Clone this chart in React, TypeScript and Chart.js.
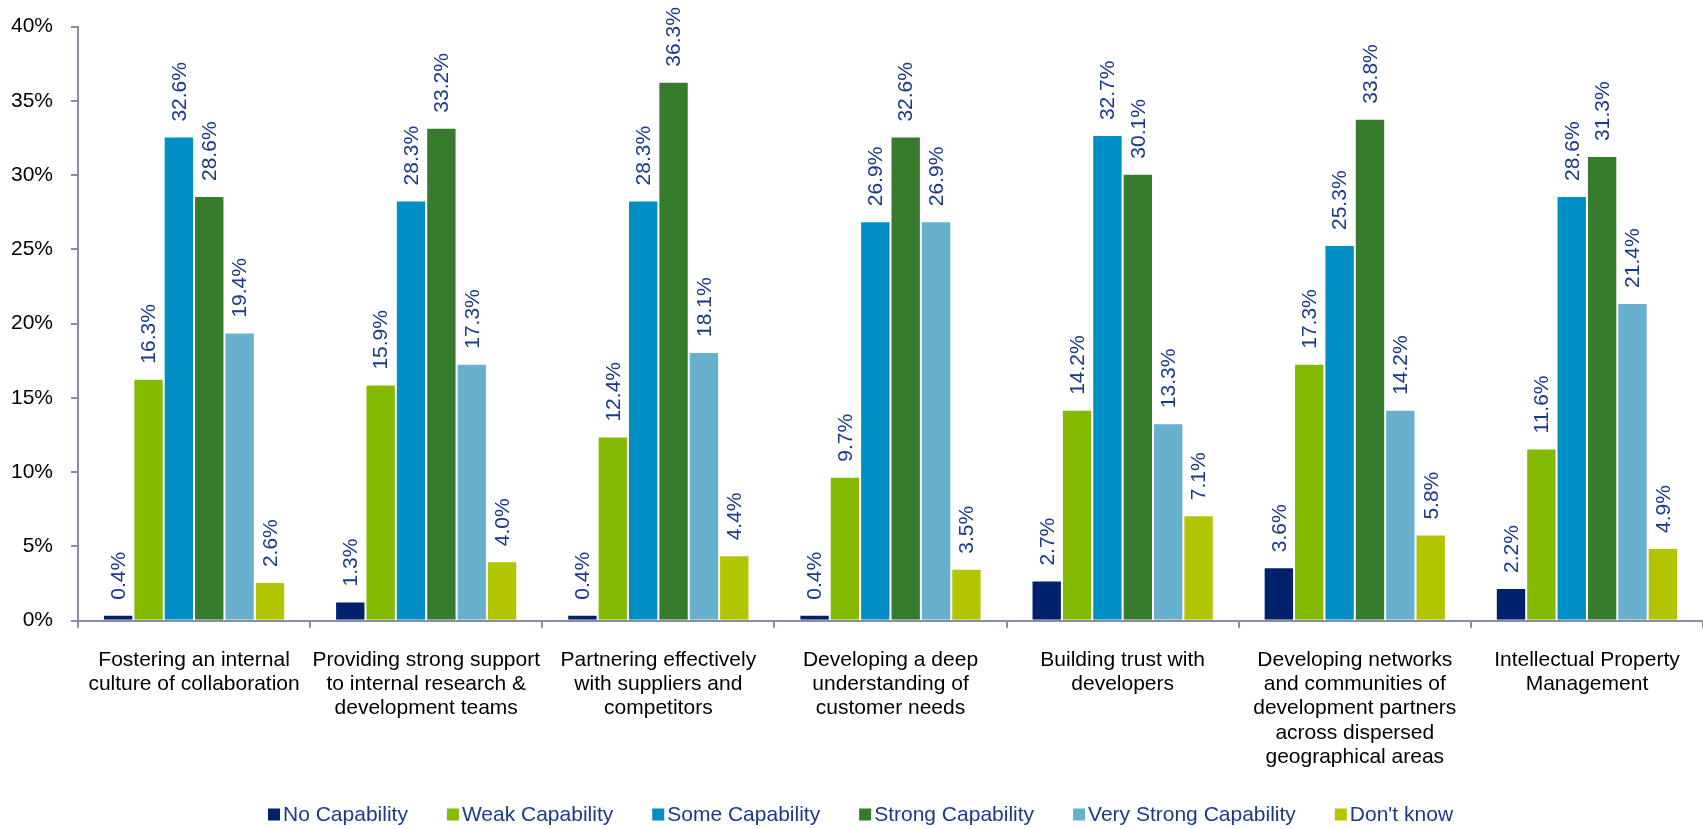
import React, { useEffect, useRef } from "react";
import { Chart, registerables } from "chart.js";

Chart.register(...registerables);

const categories: string[][] = [
  ["Fostering an internal", "culture of collaboration"],
  ["Providing strong support", "to internal research &", "development teams"],
  ["Partnering effectively", "with suppliers and", "competitors"],
  ["Developing a deep", "understanding of", "customer needs"],
  ["Building trust with", "developers"],
  ["Developing networks", "and communities of", "development partners", "across dispersed", "geographical areas"],
  ["Intellectual Property", "Management"],
];

const seriesNames = [
  "No Capability",
  "Weak Capability",
  "Some Capability",
  "Strong Capability",
  "Very Strong Capability",
  "Don't know",
];

const noCapability = [0.4, 1.3, 0.4, 0.4, 2.7, 3.6, 2.2];
const weakCapability = [16.3, 15.9, 12.4, 9.7, 14.2, 17.3, 11.6];
const someCapability = [32.6, 28.3, 28.3, 26.9, 32.7, 25.3, 28.6];
const strongCapability = [28.6, 33.2, 36.3, 32.6, 30.1, 33.8, 31.3];
const veryStrongCapability = [19.4, 17.3, 18.1, 26.9, 13.3, 14.2, 21.4];
const dontKnow = [2.6, 4.0, 4.4, 3.5, 7.1, 5.8, 4.9];

const seriesValues = [
  noCapability,
  weakCapability,
  someCapability,
  strongCapability,
  veryStrongCapability,
  dontKnow,
];

const seriesColors = ["#00216B", "#84BB00", "#008FC5", "#377B2D", "#67B1CE", "#B3C500"];

const yTicks = [0, 5, 10, 15, 20, 25, 30, 35, 40];

const FONT = '"Liberation Sans", Arial, Helvetica, sans-serif';
const LABEL_COLOR = "#1A3A8A";
const AXIS_COLOR = "#8A8CA6";

const W = 1703;
const H = 829;

const valueLabelPlugin = {
  id: "valueLabels",
  afterDatasetsDraw(chart: any) {
    const ctx = chart.ctx;
    ctx.save();
    ctx.font = `21px ${FONT}`;
    ctx.fillStyle = LABEL_COLOR;
    ctx.textAlign = "left";
    ctx.textBaseline = "middle";
    chart.data.datasets.forEach((ds: any, di: number) => {
      const meta = chart.getDatasetMeta(di);
      meta.data.forEach((bar: any, i: number) => {
        const v = ds.data[i] as number;
        ctx.save();
        ctx.translate(bar.x + 1, bar.y - 15);
        ctx.rotate(-Math.PI / 2);
        ctx.fillText(v.toFixed(1) + "%", 0, 0);
        ctx.restore();
      });
    });
    ctx.restore();
  },
};

const legendPlugin = {
  id: "customLegend",
  afterDraw(chart: any) {
    const ctx = chart.ctx;
    ctx.save();
    ctx.font = `21px ${FONT}`;
    const box = 12;
    const gap = 3;
    const spacing = 39;
    let x = 268;
    const cy = 814.5;
    seriesNames.forEach((n, i) => {
      ctx.fillStyle = seriesColors[i];
      ctx.fillRect(x, cy - box / 2, box, box);
      x += box + gap;
      ctx.fillStyle = LABEL_COLOR;
      ctx.textAlign = "left";
      ctx.textBaseline = "middle";
      ctx.fillText(n, x, cy + 1);
      x += ctx.measureText(n).width + spacing;
    });
    ctx.restore();
  },
};

export default function App() {
  const canvasRef = useRef<HTMLCanvasElement | null>(null);

  useEffect(() => {
    document.body.style.margin = "0";
    const canvas = canvasRef.current;
    if (!canvas) return;
    const chart = new Chart(canvas, {
      type: "bar",
      data: {
        labels: categories,
        datasets: seriesNames.map((name, i) => ({
          label: name,
          data: seriesValues[i],
          backgroundColor: seriesColors[i],
          borderColor: "rgba(255,255,255,0.35)",
          borderWidth: 1,
          categoryPercentage: 0.785,
          barPercentage: 1.0,
          clip: false as any,
        })),
      },
      options: {
        responsive: false,
        animation: false,
        devicePixelRatio: 1,
        layout: { padding: { top: 26.7, right: 0, bottom: 0, left: 0 } },
        plugins: {
          legend: { display: false },
          tooltip: { enabled: false },
        },
        scales: {
          x: {
            grid: {
              offset: true,
              drawOnChartArea: false,
              drawTicks: true,
              tickLength: 7,
              color: AXIS_COLOR,
              lineWidth: 2,
            },
            border: { display: true, color: AXIS_COLOR, width: 2 },
            ticks: {
              color: "#000",
              font: { family: FONT, size: 21, lineHeight: 1.16 },
              padding: 20,
              maxRotation: 0,
              autoSkip: false,
            },
            afterFit: (scale: any) => {
              scale.height = H - 620.7;
            },
          },
          y: {
            min: 0,
            max: 40,
            afterBuildTicks: (scale: any) => {
              scale.ticks = yTicks.map((v) => ({ value: v }));
            },
            grid: {
              drawOnChartArea: false,
              drawTicks: true,
              tickLength: 7,
              color: AXIS_COLOR,
              lineWidth: 2,
            },
            border: { display: true, color: AXIS_COLOR, width: 2 },
            ticks: {
              color: "#000",
              font: { family: FONT, size: 21 },
              padding: 18,
              callback: (v: any) => v + "%",
            },
            afterFit: (scale: any) => {
              scale.width = 78;
              scale.paddingTop = 0;
              scale.paddingBottom = 0;
            },
          },
        },
      },
      plugins: [valueLabelPlugin, legendPlugin],
    });
    return () => chart.destroy();
  }, []);

  return (
    <div style={{ width: W, height: H, position: "relative" }}>
      <canvas ref={canvasRef} width={W} height={H} style={{ display: "block", width: W, height: H }} />
    </div>
  );
}
